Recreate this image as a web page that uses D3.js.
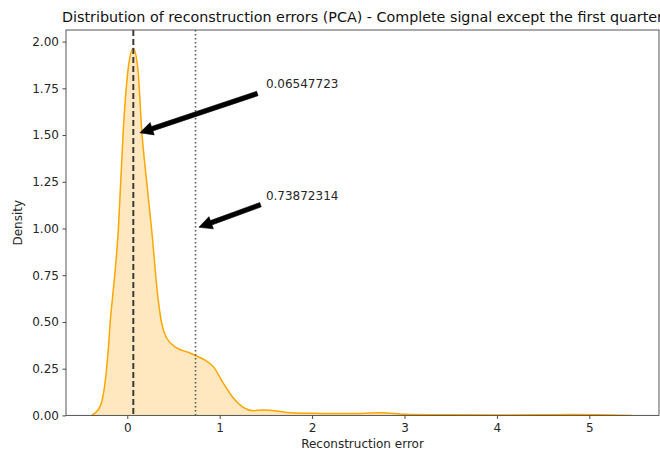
<!DOCTYPE html>
<html>
<head>
<meta charset="utf-8">
<script src="https://cdn.jsdelivr.net/npm/d3@7"></script>
<style>
  html, body { margin: 0; padding: 0; background: #fff; }
  svg { display: block; font-family: "DejaVu Sans", sans-serif; }
</style>
</head>
<body>
<svg id="chart" width="660" height="453"></svg>
<script>
// ---- data ----
const kdeX = [-0.385, -0.295, -0.241, -0.206, -0.180, -0.162, -0.097, -0.043, 0.008, 0.065,
              0.116, 0.156, 0.208, 0.264, 0.335, 0.372, 0.426, 0.535, 0.679, 0.751,
              0.841, 0.931, 1.039, 1.147, 1.255, 1.364, 1.472, 1.617, 1.761, 2.01,
              2.4, 2.75, 3.0, 3.5, 4.0, 4.5, 4.8, 5.1, 5.46];
const kdeY = [0.0, 0.047, 0.173, 0.35, 0.528, 0.617, 0.992, 1.527, 1.848, 1.964,
              1.848, 1.527, 1.26, 0.992, 0.617, 0.494, 0.414, 0.361, 0.334, 0.318,
              0.296, 0.261, 0.173, 0.093, 0.043, 0.025, 0.029, 0.024, 0.014, 0.011,
              0.010, 0.014, 0.006, 0.003, 0.002, 0.003, 0.005, 0.004, 0.0];
const xTicks = [0, 1, 2, 3, 4, 5];
const yTicks = [0, 0.25, 0.5, 0.75, 1.0, 1.25, 1.5, 1.75, 2.0];
const markerValues = [0.06547723, 0.73872314];
const markerStyles = ["dashed", "dotted"];
const arrowTargetY = [1.5, 1.0];
const labelX = [1.5, 1.5];
const labelY = [1.75, 1.15];
const labelTexts = ["0.06547723", "0.73872314"];
const titleText = "Distribution of reconstruction errors (PCA) - Complete signal except the first quarter";
const xLabel = "Reconstruction error";
const yLabel = "Density";

// ---- layout ----
const svg = d3.select("#chart");
const mL = 66, mR = 659, mT = 30, mB = 415.4;
const x = d3.scaleLinear().domain([-0.663, 5.754]).range([mL, mR]);
const y = d3.scaleLinear().domain([0, 2.062]).range([mB, mT]);

const pts = kdeX.map((d, i) => [d, kdeY[i]]);

const g = svg.append("g");
svg.append("clipPath").attr("id", "plotclip")
  .append("rect").attr("x", mL).attr("y", mT).attr("width", mR - mL).attr("height", mB - mT);

const plot = g.append("g").attr("clip-path", "url(#plotclip)");

plot.append("path")
  .datum(pts)
  .attr("d", d3.area().x(d => x(d[0])).y0(y(0)).y1(d => y(d[1])).curve(d3.curveMonotoneX))
  .attr("fill", "#FFA500").attr("fill-opacity", 0.25);

plot.append("path")
  .datum(pts)
  .attr("d", d3.line().x(d => x(d[0])).y(d => y(d[1])).curve(d3.curveMonotoneX))
  .attr("fill", "none").attr("stroke", "#FFA500").attr("stroke-width", 1.5);

markerValues.forEach((v, i) => {
  plot.append("line")
    .attr("x1", x(v)).attr("x2", x(v)).attr("y1", mT).attr("y2", mB)
    .attr("stroke", markerStyles[i] === "dashed" ? "#3a3a3a" : "#555")
    .attr("stroke-width", markerStyles[i] === "dashed" ? 2 : 1.6)
    .attr("stroke-dasharray", markerStyles[i] === "dashed" ? "6,3" : "1.6,2.4");
});

// axes
const xAxis = g.append("g").attr("transform", `translate(0,${mB})`)
  .call(d3.axisBottom(x).tickValues(xTicks).tickFormat(d3.format("d")).tickSize(3.5).tickSizeOuter(0));
const yAxis = g.append("g").attr("transform", `translate(${mL},0)`)
  .call(d3.axisLeft(y).tickValues(yTicks).tickFormat(d3.format(".2f")).tickSize(3.5).tickSizeOuter(0));
[xAxis, yAxis].forEach(a => {
  a.select(".domain").remove();
  a.selectAll(".tick line").attr("stroke", "#333").attr("stroke-width", 0.9);
  a.selectAll(".tick text").attr("fill", "#262626").attr("font-size", 12)
    .attr("font-family", "DejaVu Sans, sans-serif");
});
xAxis.selectAll(".tick text").attr("dy", "0.85em");
yAxis.selectAll(".tick text").attr("dx", "-0.05em");

// frame
g.append("rect").attr("x", mL).attr("y", mT).attr("width", mR - mL).attr("height", mB - mT)
  .attr("fill", "none").attr("stroke", "#444").attr("stroke-width", 0.9);

// annotations
markerValues.forEach((v, i) => {
  const px = x(v), py = y(arrowTargetY[i]);
  const sx = x(labelX[i]) - 2, sy = y(labelY[i]) + 3;
  const dx = px - sx, dy = py - sy, L = Math.hypot(dx, dy);
  const ux = dx / L, uy = dy / L;
  const shrink = 0.05 * L;
  const tx = px - ux * shrink, ty = py - uy * shrink;
  const bx = sx + ux * shrink, by = sy + uy * shrink;
  const nx = -uy, ny = ux;
  const w = 2.3, hw = 6.5, hl = 13;
  const hx = tx - ux * hl, hy = ty - uy * hl;
  const poly = [
    [bx + nx * w, by + ny * w], [hx + nx * w, hy + ny * w], [hx + nx * hw, hy + ny * hw],
    [tx, ty],
    [hx - nx * hw, hy - ny * hw], [hx - nx * w, hy - ny * w], [bx - nx * w, by - ny * w]
  ];
  g.append("polygon").attr("points", poly.map(p => p.join(",")).join(" "))
    .attr("fill", "#000").attr("stroke", "#000").attr("stroke-width", 0.6);
  g.append("text").attr("x", x(labelX[i])).attr("y", y(labelY[i]))
    .attr("font-size", 12).attr("fill", "#262626").text(labelTexts[i]);
});

// labels
svg.append("text").attr("x", (mL + mR) / 2).attr("y", 22).attr("text-anchor", "middle")
  .attr("font-size", 14.3).attr("fill", "#111").text(titleText);
svg.append("text").attr("x", (mL + mR) / 2).attr("y", 448).attr("text-anchor", "middle")
  .attr("font-size", 12).attr("fill", "#262626").text(xLabel);
svg.append("text").attr("transform", `translate(22,${(mT + mB) / 2}) rotate(-90)`)
  .attr("text-anchor", "middle").attr("font-size", 12).attr("fill", "#262626").text(yLabel);
</script>
</body>
</html>
